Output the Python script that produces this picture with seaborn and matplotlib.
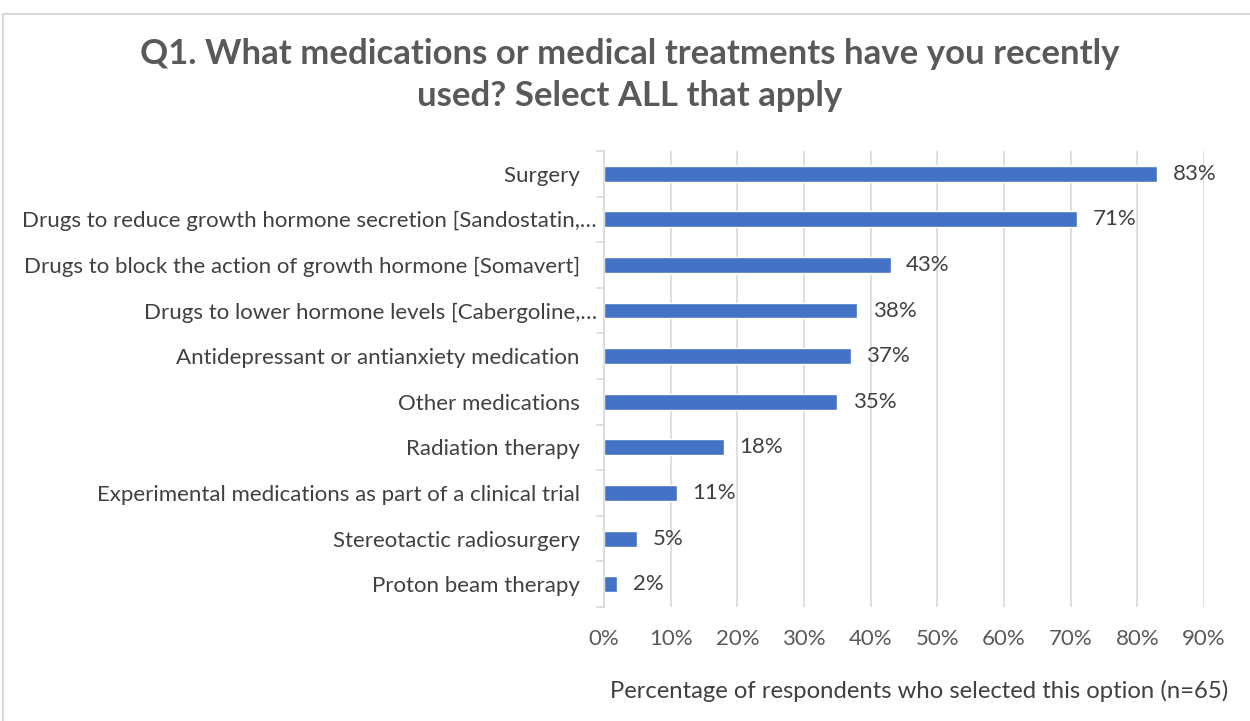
import matplotlib
matplotlib.use("Agg")
import matplotlib.pyplot as plt
import seaborn as sns
import pandas as pd
from matplotlib.patches import Rectangle

categories = [
    "Surgery",
    "Drugs to reduce growth hormone secretion [Sandostatin,…",
    "Drugs to block the action of growth hormone [Somavert]",
    "Drugs to lower hormone levels [Cabergoline,…",
    "Antidepressant or antianxiety medication",
    "Other medications",
    "Radiation therapy",
    "Experimental medications as part of a clinical trial",
    "Stereotactic radiosurgery",
    "Proton beam therapy",
]
values = [83, 71, 43, 38, 37, 35, 18, 11, 5, 2]
x_ticks = [0, 10, 20, 30, 40, 50, 60, 70, 80, 90]
title = "Q1. What medications or medical treatments have you recently\nused? Select ALL that apply"
xlabel = "Percentage of respondents who selected this option (n=65)"

df = pd.DataFrame({"category": categories, "value": values})

sns.set_style("white")
plt.rcParams["font.family"] = ["Lato", "DejaVu Sans"]

fig = plt.figure(figsize=(12.5, 7.21), dpi=100)
ax = fig.add_axes([0.4832, 0.1582, 0.48, 0.6325])

sns.barplot(data=df, x="value", y="category", orient="h", color="#4472C4",
            width=0.35, ax=ax, saturation=1)

ax.set_xlim(0, 90)
ax.set_ylim(len(categories) - 0.5, -0.5)
ax.set_xticks(x_ticks)
ax.set_xticklabels([f"{t}%" for t in x_ticks], fontsize=16, color="#595959")
ax.tick_params(axis="x", length=0, pad=16)
ax.set_yticks(range(len(categories)))
ax.set_yticklabels([c if c.endswith("…") else c + "   " for c in categories],
                   fontsize=16, color="#404040")
ax.tick_params(axis="y", length=0, pad=5)
ax.set_ylabel("")
ax.set_xlabel(xlabel, fontsize=17.2, color="#404040")
ax.xaxis.set_label_coords(1.041, -0.185)
ax.xaxis.label.set_horizontalalignment("right")
ax.xaxis.label.set_verticalalignment("center")

ax.grid(axis="x", color="#D9D9D9", linewidth=1.2)
ax.set_axisbelow(True)
for s in ["top", "right", "bottom"]:
    ax.spines[s].set_visible(False)
ax.spines["left"].set_color("#D9D9D9")
ax.spines["left"].set_linewidth(1.2)
# category boundary ticks
for b in [i - 0.5 for i in range(len(categories) + 1)]:
    ax.plot([-1.0, 0], [b, b], color="#D9D9D9", lw=1.2, clip_on=False)

for i, v in enumerate(values):
    ax.text(v + 2.3, i, f"{v}%", va="center", ha="left", fontsize=16, color="#404040")

fig.text(0.504, 0.8955, title, ha="center", va="center", fontsize=25,
         fontweight="bold", color="#595959", linespacing=1.38)

fig.patches.append(Rectangle((0.0025, -0.01), 1.0, 1.0 - 0.0097, transform=fig.transFigure,
                             fill=False, edgecolor="#D9D9D9", lw=1.5))

fig.savefig("out.png", dpi=100, facecolor="white")
